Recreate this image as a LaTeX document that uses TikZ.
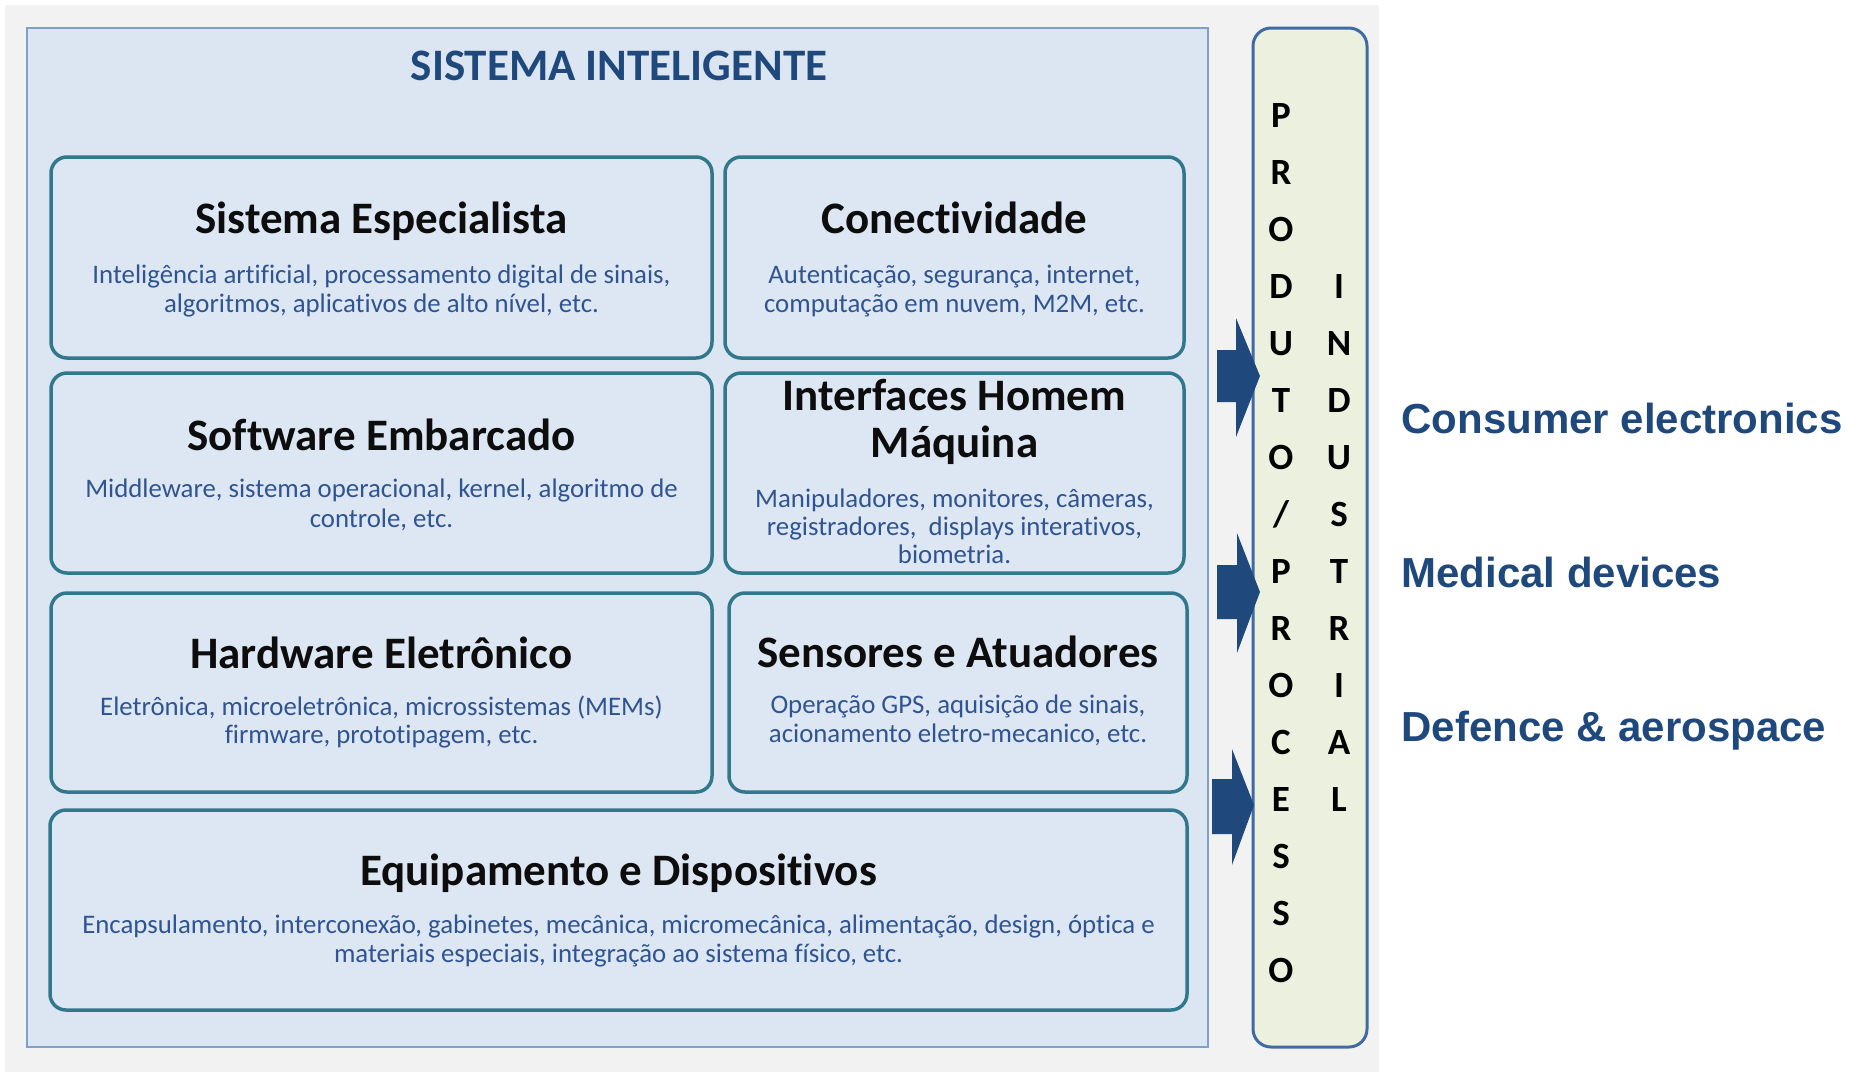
\documentclass[tikz,border=0pt]{standalone}
\usepackage{fontspec}
\setmainfont{Carlito}[Ligatures=NoCommon]
\newfontfamily\arialf{Liberation Sans}
\definecolor{bgGray}{HTML}{F2F2F2}
\definecolor{sysFill}{HTML}{DCE6F2}
\definecolor{sysLine}{HTML}{7F9FCC}
\definecolor{boxLine}{HTML}{31788C}
\definecolor{boxFill}{HTML}{DDE7F3}
\definecolor{prodFill}{HTML}{EBF1DE}
\definecolor{prodLine}{HTML}{3F6AA3}
\definecolor{navy}{HTML}{1F497D}
\definecolor{descBlue}{HTML}{2F5491}
\definecolor{headBlack}{HTML}{0D0D0D}
\begin{document}
\begin{tikzpicture}[x=0.5pt,y=-0.5pt,
  cell/.style={draw=boxLine, fill=boxFill, line width=1.75pt, rounded corners=8pt},
  prod/.style={draw=prodLine, fill=prodFill, line width=1.5pt, rounded corners=9pt},
  systitle/.style={anchor=base, inner sep=0pt, text=navy, font=\bfseries\fontsize{22.5}{27}\selectfont},
  head/.style={anchor=base, inner sep=0pt, text=headBlack, font=\bfseries\fontsize{22.5}{27}\selectfont},
  desc/.style={anchor=base, inner sep=0pt, text=descBlue, font=\fontsize{13.4}{16}\selectfont},
  letter/.style={anchor=base, inner sep=0pt, text=black, font=\bfseries\fontsize{18.5}{22}\selectfont},
  side/.style={anchor=base west, inner sep=0pt, text=navy, font=\arialf\bfseries\fontsize{21}{25}\selectfont},
  blockarrow/.style={fill=navy, draw=none}]
\useasboundingbox (0,0) rectangle (1865,1072);
\fill[white] (0,0) rectangle (1865,1072);
\fill[bgGray] (5,5) rectangle (1379,1072);
\draw[draw=sysLine, fill=sysFill, line width=1pt] (27,28) rectangle (1208,1047);

% inner boxes
\draw[cell] (51,157) rectangle (712,358);
\draw[cell] (725,157) rectangle (1184,358);
\draw[cell] (51,373) rectangle (712,573);
\draw[cell] (725,373) rectangle (1184,573);
\draw[cell] (51,593) rectangle (712,792);
\draw[cell] (729,593) rectangle (1187,792);
\draw[cell] (50,810) rectangle (1187,1010);

\node[systitle] (sys) at (619,80) {SISTEMA INTELIGENTE};

% row 1
\node[head] (seT) at (381.5,233) {Sistema Especialista};
\node[desc] (seA) at (381.5,283) {Inteligência artificial, processamento digital de sinais,};
\node[desc] (seB) at (381.5,312) {algoritmos, aplicativos de alto nível, etc.};
\node[head] (coT) at (954.5,233) {Conectividade};
\node[desc] (coA) at (954.5,283) {Autenticação, segurança, internet,};
\node[desc] (coB) at (954.5,312) {computação em nuvem, M2M, etc.};
% row 2
\node[head] (swT) at (381.5,450) {Software Embarcado};
\node[desc] (swA) at (381.5,497) {Middleware, sistema operacional, kernel, algoritmo de};
\node[desc] (swB) at (381.5,527) {controle, etc.};
\node[head] (ihT) at (954.5,410) {Interfaces Homem};
\node[head] (ihU) at (954.5,457) {Máquina};
\node[desc] (ihA) at (954.5,507) {Manipuladores, monitores, câmeras,};
\node[desc] (ihB) at (954.5,535) {registradores,\ \ displays interativos,};
\node[desc] (ihC) at (954.5,563) {biometria.};
% row 3
\node[head] (hwT) at (381.5,668) {Hardware Eletrônico};
\node[desc] (hwA) at (381.5,715) {Eletrônica, microeletrônica, microssistemas (MEMs)};
\node[desc] (hwB) at (381.5,743) {firmware, prototipagem, etc.};
\node[head] (saT) at (958,667) {Sensores e Atuadores};
\node[desc] (saA) at (958,713) {Operação GPS, aquisição de sinais,};
\node[desc] (saB) at (958,742) {acionamento eletro-mecanico, etc.};
% row 4
\node[head] (eqT) at (618.5,885) {Equipamento e Dispositivos};
\node[desc] (eqA) at (618.5,933) {Encapsulamento, interconexão, gabinetes, mecânica, micromecânica, alimentação, design, óptica e};
\node[desc] (eqB) at (618.5,962) {materiais especiais, integração ao sistema físico, etc.};

% right column box
\draw[prod] (1253,28) rectangle (1367,1047);
\foreach \c [count=\i from 0] in {P,R,O,D,U,T,O,/,P,R,O,C,E,S,S,O}
  \node[letter] (p\i) at (1281,{127+57*\i}) {\c};
\foreach \c [count=\i from 3] in {I,N,D,U,S,T,R,I,A,L}
  \node[letter] (q\i) at (1339,{127+57*\i}) {\c};

% block arrows
\fill[blockarrow] (1217,350) -- (1236,350) -- (1236,318) -- (1260,376) -- (1236,437) -- (1236,402) -- (1217,402) -- cycle;
\fill[blockarrow] (1217,565) -- (1237,565) -- (1237,533) -- (1260,592) -- (1237,653) -- (1237,619) -- (1217,619) -- cycle;
\fill[blockarrow] (1212,779) -- (1232,779) -- (1232,749) -- (1254,805) -- (1232,865) -- (1232,834) -- (1212,834) -- cycle;

% side labels
\node[side] (ce) at (1401,433) {Consumer electronics};
\node[side] (md) at (1401,587) {Medical devices};
\node[side] (da) at (1401,741) {Defence \& aerospace};
\end{tikzpicture}
\end{document}
